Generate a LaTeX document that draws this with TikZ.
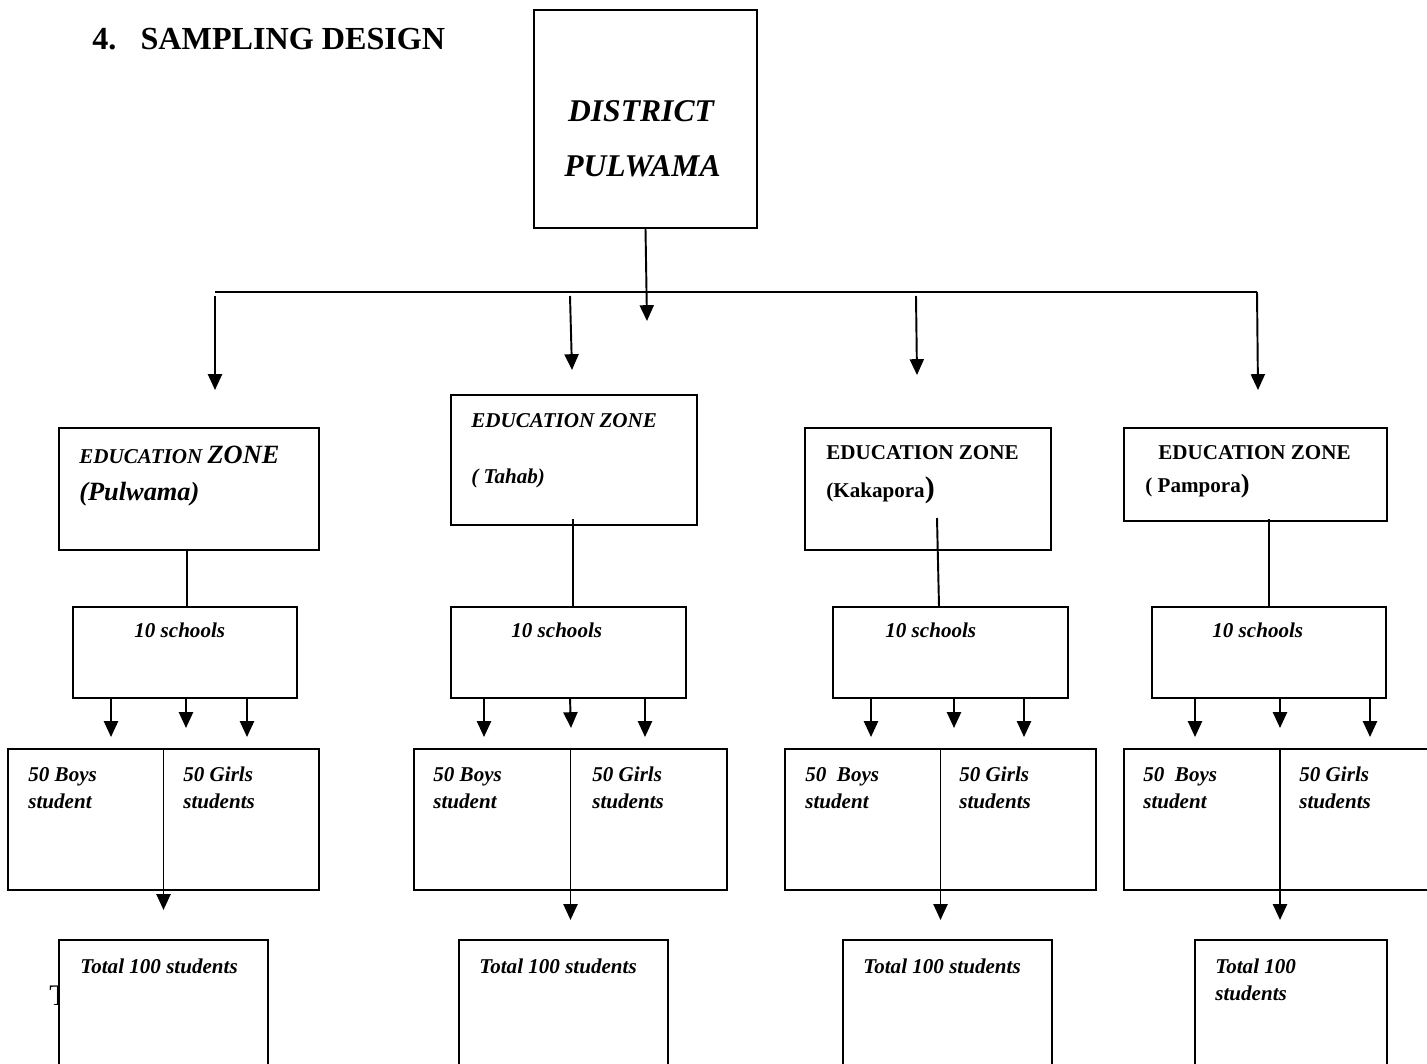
\documentclass[tikz,border=0pt]{standalone}
\usepackage{fontspec}
\setmainfont{Liberation Serif}
\usetikzlibrary{arrows.meta,calc}

\newcommand{\pxu}{0.02cm}

\tikzset{
  box/.style={draw, line width=1.1pt, fill=white, inner sep=0pt},
  arr/.style={line width=1.1pt, -{Triangle[width=8pt,length=9pt]}},
  lnk/.style={line width=1.1pt},
  lbl/.style={anchor=base west, inner sep=0pt, align=left,
    font=\fontsize{12}{15.3}\selectfont\bfseries\itshape},
  lblup/.style={lbl, font=\fontsize{12}{15.3}\selectfont\bfseries}
}

\begin{document}
\begin{tikzpicture}[x=\pxu, y=-\pxu]
  %%%%% START %%%%%
  \useasboundingbox (0,0) rectangle (1427,1064);

  \node[anchor=base west, inner sep=0pt, font=\fontsize{18.3}{20}\selectfont\bfseries] (title) at (92,50) {4.\hspace{0.75em}SAMPLING DESIGN};

  % district
  \node[box, minimum width=223*\pxu, minimum height=218*\pxu] (dist) at (645.5,119) {};
  \node[anchor=base, inner sep=0pt, font=\fontsize{18}{20}\selectfont\bfseries\itshape] (distA) at (641,122) {DISTRICT};
  \node[anchor=base, inner sep=0pt, font=\fontsize{18}{20}\selectfont\bfseries\itshape] (distB) at (642.5,177) {PULWAMA};

  \coordinate (busL) at (215,292);
  \coordinate (busR) at (1257,292);
  \coordinate (dtip) at (647,321);
  \draw[lnk] (busL) -- (busR);
  \draw[arr] (dist.south) -- (dtip);

  % zones
  \node[box, minimum width=260*\pxu, minimum height=122*\pxu] (zp) at (189,489) {};
  \node[box, minimum width=246*\pxu, minimum height=130*\pxu] (zt) at (574,460) {};
  \node[box, minimum width=246*\pxu, minimum height=122*\pxu] (zk) at (928,489) {};
  \node[box, minimum width=263*\pxu, minimum height=93*\pxu] (zm) at (1255.5,474.5) {};

  \draw[arr] (215,296) -- (215,390);
  \draw[arr] (570,296) -- (572,370);
  \draw[arr] (916,296) -- (917,375);
  \draw[arr] (busR) -- (1258,390);

  \node[lbl] (zpA) at (79,463) {EDUCATION {\fontsize{15}{17}\selectfont ZONE}};
  \node[lbl, font=\fontsize{15}{17}\selectfont\bfseries\itshape] (zpB) at (79,500) {(Pulwama)};
  \node[lbl] (ztA) at (471,427) {EDUCATION ZONE};
  \node[lbl] (ztB) at (471,483) {( Tahab)};
  \node[lblup] (zkA) at (826,459) {EDUCATION ZONE};
  \node[lblup] (zkB) at (826,497) {(Kakapora{\fontsize{17}{17}\selectfont)}};
  \node[lblup] (zmA) at (1158,459) {EDUCATION ZONE};
  \node[lblup] (zmB) at (1145,492) {( Pampora{\fontsize{15}{15}\selectfont)}};

  % schools
  \node[box, minimum width=224*\pxu, minimum height=91*\pxu] (s1) at (185,652.5) {};
  \node[box, minimum width=235*\pxu, minimum height=91*\pxu] (s2) at (568.5,652.5) {};
  \node[box, minimum width=235*\pxu, minimum height=91*\pxu] (s3) at (950.5,652.5) {};
  \node[box, minimum width=234*\pxu, minimum height=91*\pxu] (s4) at (1269,652.5) {};

  \draw[lnk] (187,550) -- (187,606);
  \draw[lnk] ($(zt.south)+(-1,-7)$) -- (573,606);
  \draw[lnk] (937,518) -- (939,606);
  \draw[lnk] ($(s4.north |- zm.south)+(0,-3)$) -- (s4.north);

  \node[lbl] (s1t) at (134,637) {10 schools};
  \node[lbl] (s2t) at (511,637) {10 schools};
  \node[lbl] (s3t) at (885,637) {10 schools};
  \node[lbl] (s4t) at (1212,637) {10 schools};

  \draw[arr] (111,698) -- (111,737);
  \draw[arr] (186,698) -- (186,728);
  \draw[arr] (247,698) -- (247,737);
  \draw[arr] (484,698) -- (484,737);
  \draw[arr] (570,698) -- (571,728);
  \draw[arr] (645,698) -- (645,737);
  \draw[arr] (871,698) -- (871,737);
  \draw[arr] (954,698) -- (954,728);
  \draw[arr] (1024,698) -- (1024,737);
  \draw[arr] (1195,698) -- (1195,737);
  \draw[arr] (1280,698) -- (1280,728);
  \draw[arr] (1370,698) -- (1370,737);

  % boys / girls
  \node[box, minimum width=311*\pxu, minimum height=141*\pxu] (b1) at (163.5,819.5) {};
  \node[box, minimum width=313*\pxu, minimum height=141*\pxu] (b2) at (570.5,819.5) {};
  \node[box, minimum width=311*\pxu, minimum height=141*\pxu] (b3) at (940.5,819.5) {};
  \node[box, minimum width=312*\pxu, minimum height=141*\pxu] (b4) at (1280,819.5) {};
  \draw[lnk] (b1.north) -- (b1.south);
  \draw[lnk] (b2.north) -- (b2.south);
  \draw[lnk] (b3.north) -- (b3.south);
  \draw[lnk] (b4.north) -- (b4.south);

  \node[lbl] (b1a) at (28,808) {50 Boys\\student};
  \node[lbl] (b1b) at (183,808) {50 Girls\\students};
  \node[lbl] (b2a) at (433,808) {50 Boys\\student};
  \node[lbl] (b2b) at (592,808) {50 Girls\\students};
  \node[lbl] (b3a) at (805,808) {50\ \ Boys\\student};
  \node[lbl] (b3b) at (959,808) {50 Girls\\students};
  \node[lbl] (b4a) at (1143,808) {50\ \ Boys\\student};
  \node[lbl] (b4b) at (1299,808) {50 Girls\\students};

  % totals
  \node[anchor=base west, inner sep=0pt, font=\fontsize{17}{17}\selectfont] (stray) at (49,1005) {T};
  \node[box, minimum width=209*\pxu, minimum height=160*\pxu] (t1) at (163.5,1020) {};
  \node[box, minimum width=209*\pxu, minimum height=160*\pxu] (t2) at (563.5,1020) {};
  \node[box, minimum width=209*\pxu, minimum height=160*\pxu] (t3) at (947.5,1020) {};
  \node[box, minimum width=192*\pxu, minimum height=160*\pxu] (t4) at (1291,1020) {};

  \draw[arr] ($(b1.south)+(0,-30)$) -- ($(b1.south)+(0,19)$);
  \draw[arr] ($(b2.south)+(0,-30)$) -- ($(b2.south)+(0,29)$);
  \draw[arr] ($(b3.south)+(0,-30)$) -- ($(b3.south)+(0,29)$);
  \draw[arr] ($(b4.south)+(0,-30)$) -- ($(b4.south)+(0,29)$);

  \node[lbl] (t1t) at (80,973) {Total 100 students};
  \node[lbl] (t2t) at (479,973) {Total 100 students};
  \node[lbl] (t3t) at (863,973) {Total 100 students};
  \node[lbl] (t4t) at (1215,1000) {Total 100\\students};
  %%%%% END %%%%%
\end{tikzpicture}
\end{document}
